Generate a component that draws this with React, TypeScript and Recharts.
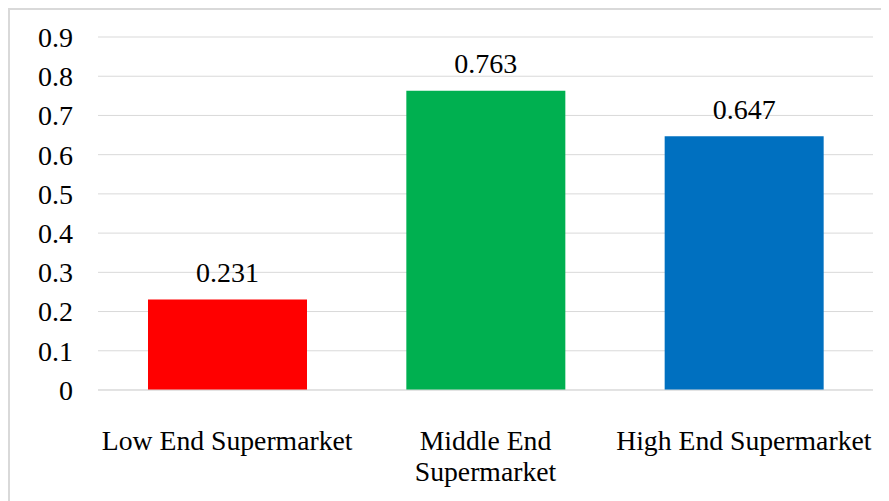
import React from "react";
import { BarChart, Bar, XAxis, YAxis, CartesianGrid, Cell, LabelList } from "recharts";

const categories = ["Low End Supermarket", "Middle End\nSupermarket", "High End Supermarket"];
const values = [0.231, 0.763, 0.647];
const barColors = ["#FF0000", "#00B050", "#0070C0"];
const yTicks = [0, 0.1, 0.2, 0.3, 0.4, 0.5, 0.6, 0.7, 0.8, 0.9];

const data = categories.map((name, i) => ({ name, value: values[i] }));

const FONT = '"Liberation Serif", "Times New Roman", serif';

const XTick = (props: any) => {
  const { x, y, payload } = props;
  const lines = String(payload.value).split("\n");
  return (
    <text x={x} y={y} textAnchor="middle" fill="#000" fontSize={27.7} fontFamily={FONT}>
      {lines.map((l: string, i: number) => (
        <tspan key={i} x={x} y={y + 51.5 + i * 31}>
          {l}
        </tspan>
      ))}
    </text>
  );
};

export default function App() {
  return (
    <div>
      <style>{"body{overflow:hidden}"}</style>
      <div
        style={{
          width: 900,
          height: 520,
          border: "2px solid #d9d9d9",
          background: "#fff",
          boxSizing: "content-box",
        }}
      >
        <BarChart
          width={900}
          height={520}
          data={data}
          margin={{ top: 27, right: 37, left: 0, bottom: 40 }}
        >
          <CartesianGrid vertical={false} stroke="#d9d9d9" />
          <XAxis
            dataKey="name"
            axisLine={{ stroke: "#d9d9d9" }}
            tickLine={false}
            height={100}
            interval={0}
            tick={<XTick />}
          />
          <YAxis
            domain={[0, 0.9]}
            ticks={yTicks}
            width={88}
            axisLine={false}
            tickLine={false}
            tickMargin={19}
            tick={{ fill: "#000", fontSize: 28, fontFamily: FONT }}
            tickFormatter={(v: number) => String(v)}
          />
          <Bar dataKey="value" barSize={159} isAnimationActive={false}>
            {data.map((d, i) => (
              <Cell key={i} fill={barColors[i]} />
            ))}
            <LabelList
              dataKey="value"
              position="top"
              offset={17.5}
              fill="#000"
              fontSize={28}
              fontFamily={FONT}
            />
          </Bar>
        </BarChart>
      </div>
    </div>
  );
}
